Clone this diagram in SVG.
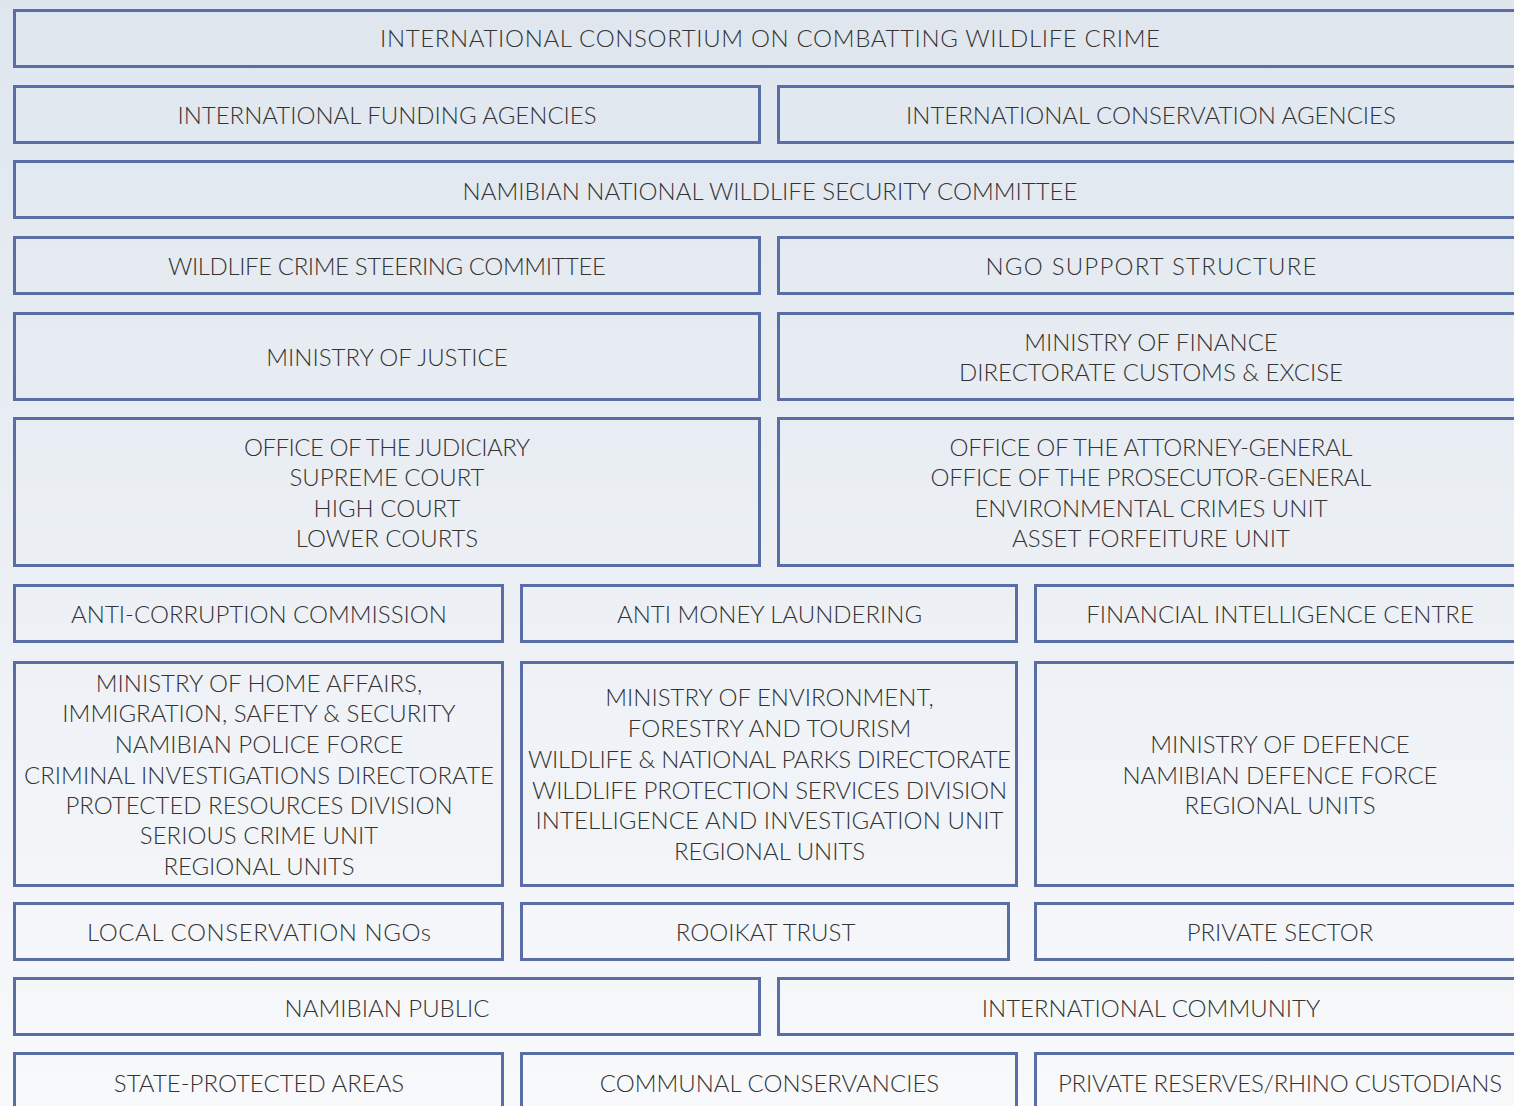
<svg xmlns="http://www.w3.org/2000/svg" width="1514" height="1106" viewBox="0 0 1514 1106">
<defs>
<linearGradient id="bg" x1="0" y1="0" x2="0" y2="1">
<stop offset="0" stop-color="#dfe6ee"/>
<stop offset="1" stop-color="#f8f9fb"/>
</linearGradient>
</defs>
<style>
.box{fill:none;stroke:#5a6ea6;stroke-width:3}
.t{font-family:Lato,"Liberation Sans",sans-serif;font-weight:300;font-size:24px;fill:#333333;text-anchor:middle}
</style>
<rect x="0" y="0" width="1514" height="1106" fill="url(#bg)"/>
<g id="n-iccwc"><rect class="box" x="14.5" y="10.5" width="1512" height="56"/><text class="t" x="770" y="47" textLength="780">INTERNATIONAL CONSORTIUM ON COMBATTING WILDLIFE CRIME</text></g>
<g id="n-funding"><rect class="box" x="14.5" y="86.5" width="745" height="56"/><text class="t" x="387" y="123.5">INTERNATIONAL FUNDING AGENCIES</text></g>
<g id="n-conservation"><rect class="box" x="778.5" y="86.5" width="1500" height="56"/><text class="t" x="1151" y="123.5">INTERNATIONAL CONSERVATION AGENCIES</text></g>
<g id="n-nnwsc"><rect class="box" x="14.5" y="161.5" width="1512" height="56"/><text class="t" x="770" y="199.5">NAMIBIAN NATIONAL WILDLIFE SECURITY COMMITTEE</text></g>
<g id="n-steering"><rect class="box" x="14.5" y="237.5" width="745" height="56"/><text class="t" x="387" y="274.5" textLength="438">WILDLIFE CRIME STEERING COMMITTEE</text></g>
<g id="n-ngo"><rect class="box" x="778.5" y="237.5" width="1500" height="56"/><text class="t" x="1151" y="274.5" textLength="331">NGO SUPPORT STRUCTURE</text></g>
<g id="n-justice"><rect class="box" x="14.5" y="313.5" width="745" height="86"/><text class="t" x="387" y="365.5">MINISTRY OF JUSTICE</text></g>
<g id="n-finance"><rect class="box" x="778.5" y="313.5" width="1500" height="86"/><text class="t" x="1151" y="350.5">MINISTRY OF FINANCE</text><text class="t" x="1151" y="380.5">DIRECTORATE CUSTOMS &amp; EXCISE</text></g>
<g id="n-judiciary"><rect class="box" x="14.5" y="418.5" width="745" height="147"/><text class="t" x="387" y="455.5" textLength="286">OFFICE OF THE JUDICIARY</text><text class="t" x="387" y="485.5">SUPREME COURT</text><text class="t" x="387" y="516.5">HIGH COURT</text><text class="t" x="387" y="546.5">LOWER COURTS</text></g>
<g id="n-attorney"><rect class="box" x="778.5" y="418.5" width="1500" height="147"/><text class="t" x="1151" y="455.5" textLength="403">OFFICE OF THE ATTORNEY-GENERAL</text><text class="t" x="1151" y="485.5" textLength="441">OFFICE OF THE PROSECUTOR-GENERAL</text><text class="t" x="1151" y="516.5">ENVIRONMENTAL CRIMES UNIT</text><text class="t" x="1151" y="546.5">ASSET FORFEITURE UNIT</text></g>
<g id="n-acc"><rect class="box" x="14.5" y="585.5" width="488" height="56"/><text class="t" x="259" y="622.5">ANTI-CORRUPTION COMMISSION</text></g>
<g id="n-aml"><rect class="box" x="521.5" y="585.5" width="495" height="56"/><text class="t" x="769.5" y="622.5">ANTI MONEY LAUNDERING</text></g>
<g id="n-fic"><rect class="box" x="1035.5" y="585.5" width="1500" height="56"/><text class="t" x="1280" y="622.5">FINANCIAL INTELLIGENCE CENTRE</text></g>
<g id="n-home"><rect class="box" x="14.5" y="662.5" width="488" height="223"/><text class="t" x="259" y="691.5">MINISTRY OF HOME AFFAIRS,</text><text class="t" x="259" y="721.5">IMMIGRATION, SAFETY &amp; SECURITY</text><text class="t" x="259" y="752.5">NAMIBIAN POLICE FORCE</text><text class="t" x="259" y="783.5" textLength="470">CRIMINAL INVESTIGATIONS DIRECTORATE</text><text class="t" x="259" y="813.5">PROTECTED RESOURCES DIVISION</text><text class="t" x="259" y="843.5">SERIOUS CRIME UNIT</text><text class="t" x="259" y="874.5">REGIONAL UNITS</text></g>
<g id="n-environment"><rect class="box" x="521.5" y="662.5" width="495" height="223"/><text class="t" x="769.5" y="705.5">MINISTRY OF ENVIRONMENT,</text><text class="t" x="769.5" y="736.5">FORESTRY AND TOURISM</text><text class="t" x="769.5" y="767.5" textLength="483">WILDLIFE &amp; NATIONAL PARKS DIRECTORATE</text><text class="t" x="769.5" y="798.5" textLength="475">WILDLIFE PROTECTION SERVICES DIVISION</text><text class="t" x="769.5" y="828.5" textLength="468">INTELLIGENCE AND INVESTIGATION UNIT</text><text class="t" x="769.5" y="859.5">REGIONAL UNITS</text></g>
<g id="n-defence"><rect class="box" x="1035.5" y="662.5" width="1500" height="223"/><text class="t" x="1280" y="752.5">MINISTRY OF DEFENCE</text><text class="t" x="1280" y="783.5">NAMIBIAN DEFENCE FORCE</text><text class="t" x="1280" y="813.5">REGIONAL UNITS</text></g>
<g id="n-localngo"><rect class="box" x="14.5" y="903.5" width="488" height="56"/><text class="t" x="259" y="940.5" textLength="344">LOCAL CONSERVATION NGOs</text></g>
<g id="n-rooikat"><rect class="box" x="521.5" y="903.5" width="487" height="56"/><text class="t" x="765.5" y="940.5">ROOIKAT TRUST</text></g>
<g id="n-private"><rect class="box" x="1035.5" y="903.5" width="1500" height="56"/><text class="t" x="1280" y="940.5">PRIVATE SECTOR</text></g>
<g id="n-public"><rect class="box" x="14.5" y="978.5" width="745" height="56"/><text class="t" x="387" y="1016.5">NAMIBIAN PUBLIC</text></g>
<g id="n-intlcommunity"><rect class="box" x="778.5" y="978.5" width="1500" height="56"/><text class="t" x="1151" y="1016.5">INTERNATIONAL COMMUNITY</text></g>
<g id="n-state"><rect class="box" x="14.5" y="1053.5" width="488" height="80"/><text class="t" x="259" y="1091.5">STATE-PROTECTED AREAS</text></g>
<g id="n-communal"><rect class="box" x="521.5" y="1053.5" width="495" height="80"/><text class="t" x="769.5" y="1091.5">COMMUNAL CONSERVANCIES</text></g>
<g id="n-reserves"><rect class="box" x="1035.5" y="1053.5" width="1500" height="80"/><text class="t" x="1280" y="1091.5" textLength="444">PRIVATE RESERVES/RHINO CUSTODIANS</text></g>
<g id="connectors"></g>
</svg>
